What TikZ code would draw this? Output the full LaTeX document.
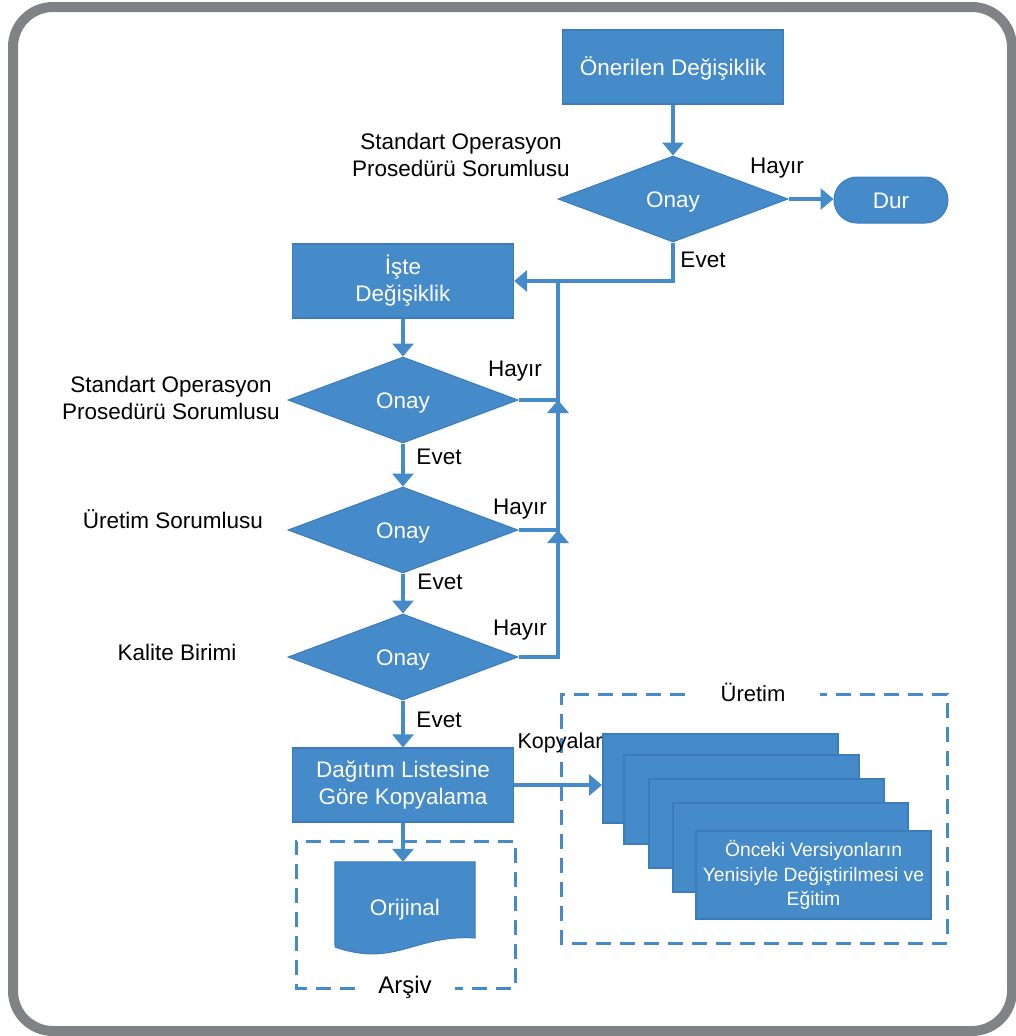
\documentclass[tikz,border=0pt]{standalone}
\usepackage{fontspec}
\setmainfont{Liberation Sans}
\usetikzlibrary{arrows.meta,shapes.geometric}
\definecolor{flowblue}{RGB}{69,139,201}
\definecolor{flowedge}{RGB}{60,124,187}
\definecolor{framegray}{RGB}{128,130,133}

\begin{document}
\begin{tikzpicture}[x=1pt,y=-1pt,
  txt/.style={inner sep=0pt, align=center, text height=16pt, text depth=0pt,
              font=\fontsize{22.5}{27}\selectfont},
  multi/.style={text height={}, text depth={}},
  box/.style={txt, draw=flowedge, line width=1.2pt, fill=flowblue, text=white,
              minimum width=221pt, minimum height=74pt},
  decision/.style={txt, diamond, draw=flowedge, line width=1pt, fill=flowblue, text=white,
              minimum width=230pt, minimum height=86pt},
  terminal/.style={txt, draw=flowedge, line width=1pt, fill=flowblue, text=white,
              rounded corners=23pt, minimum width=114pt, minimum height=46pt},
  copybox/.style={txt, draw=flowedge, line width=2pt, fill=flowblue, text=white,
              minimum width=235pt, minimum height=89pt,
              font=\fontsize{19.3}{24.5}\selectfont},
  lbl/.style={txt, text=black},
  conn/.style={draw=flowblue, line width=4pt, line join=miter,
              -{Triangle[width=21pt,length=13pt]}},
  link/.style={draw=flowblue, line width=4pt},
  group/.style={draw=flowblue, line width=3pt, dash pattern=on 15pt off 9pt}
]
\useasboundingbox (0,0) rectangle (1015,1036);
\fill[white] (0,0) rectangle (1015,1036);

% outer frame
\draw[framegray, line width=10pt, rounded corners=40pt] (13,7) rectangle (1012,1031);

% main flow
\node[box] (prop) at (673,67) {Önerilen Değişiklik};
\node[decision] (d1) at (673,199) {Onay};
\node[terminal] (stop) at (891,200) {Dur};
\node[box, multi] (iste) at (403,281) {İşte\\Değişiklik};
\node[decision] (d2) at (403,400) {Onay};
\node[decision] (d3) at (403,530) {Onay};
\node[decision] (d4) at (403,657) {Onay};
\node[box, multi] (dist) at (403,785) {Dağıtım Listesine\\Göre Kopyalama};

% archived original
\node[inner sep=0pt, minimum width=140pt, minimum height=85pt] (orig) at (405,904.5) {};
\draw[draw=flowedge, line width=1pt, fill=flowblue]
  (orig.north west) -- (orig.north east) -- (475,938)
  .. controls (415,934) and (395,968) .. (335,947) -- cycle;
\node[txt, text=white] at (405,907) {Orijinal};

% copies in production
\node[copybox] (s1) at (720.5,778.5) {};
\node[copybox] (s2) at (741,799) {};
\node[copybox] (s3) at (766,823.5) {};
\node[copybox] (s4) at (790.5,847.5) {};
\node[copybox, multi, minimum height=88pt] (s5) at (813.5,875)
  {Önceki Versiyonların\\Yenisiyle Değiştirilmesi ve\\Eğitim};

% dashed groups
\draw[group] (355,988) -- (296,988) -- (296,841) -- (515,841) -- (515,988) -- (455,988);
\node[lbl, font=\fontsize{24}{28}\selectfont] (arsiv) at (405,985) {Arşiv};
\draw[group] (685,694) -- (561,694) -- (561,943) -- (947,943) -- (947,694) -- (820,694);
\node[lbl, font=\fontsize{22}{26}\selectfont] (uretim) at (753,693) {Üretim};

% side labels
\node[lbl, multi] (r1) at (461,155) {Standart Operasyon\\Prosedürü Sorumlusu};
\node[lbl, multi] (r2) at (171,398) {Standart Operasyon\\Prosedürü Sorumlusu};
\node[lbl] (r3) at (173,520) {Üretim Sorumlusu};
\node[lbl] (r4) at (177,652) {Kalite Birimi};

% connectors
\coordinate (jt) at (558,281);

\draw[conn] (prop) -- (d1);
\draw[conn] (d1.east) -- (d1.east -| stop.west);
\draw[conn] (d1.south) -- (d1.south |- iste.east) -- (iste.east);
\draw[conn] (iste) -- (d2);
\draw[conn] (d2) -- (d3);
\draw[conn] (d3) -- (d4);
\draw[conn] (d4) -- (dist);
\draw[conn] (d4.east) -- (d4.east -| jt) -- (d3.east -| jt);
\draw[conn] (d3.east) -- (d3.east -| jt) -- (d2.east -| jt);
\draw[link] (d2.east) -- (d2.east -| jt) -- (jt);
\draw[conn] (dist.south) -- (dist.south |- orig.north);
\draw[conn] (dist.east) -- (dist.east -| s1.west);

% branch labels
\node[lbl] at (777,165) {Hayır};
\node[lbl] at (703,259) {Evet};
\node[lbl] at (515,368) {Hayır};
\node[lbl] at (439,456) {Evet};
\node[lbl] at (520,506) {Hayır};
\node[lbl] at (440,581) {Evet};
\node[lbl] at (520,627) {Hayır};
\node[lbl] at (439,719) {Evet};
\node[lbl, font=\fontsize{21.5}{26}\selectfont] at (560,740) {Kopyalar};
\end{tikzpicture}
\end{document}
